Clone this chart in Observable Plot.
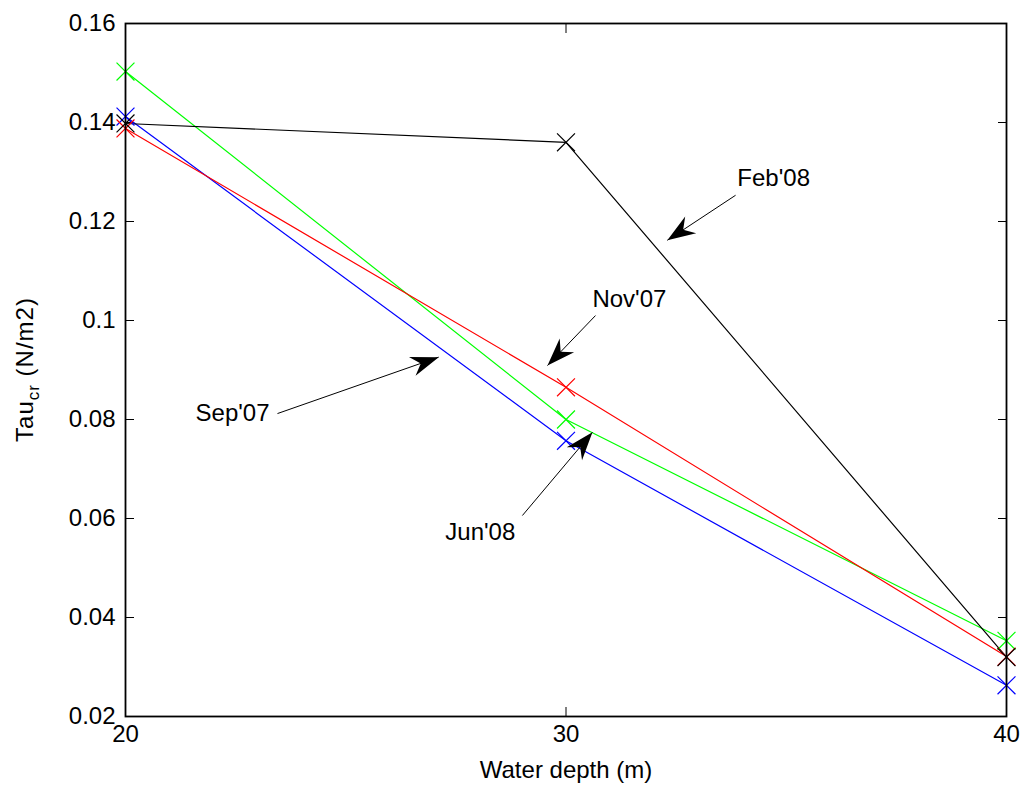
<!DOCTYPE html>
<html>
<head>
<meta charset="utf-8">
<script src="https://cdn.jsdelivr.net/npm/d3@7"></script>
<script src="https://cdn.jsdelivr.net/npm/@observablehq/plot@0.6"></script>
<style>
  body { margin: 0; background: #fff; }
  #chart svg { display: block; }
</style>
</head>
<body>
<div id="chart"></div>
<script>
// Critical shear stress against water depth, one series per survey
const depths = [20, 30, 40];
const seriesNames = ["Jun'08", "Sep'07", "Nov'07", "Feb'08"];
const seriesColors = ["#00ff00", "#0000ff", "#ff0000", "#000000"];
const jun08 = [0.1503, 0.0800, 0.0353];
const sep07 = [0.1412, 0.0757, 0.0263];
const nov07 = [0.1388, 0.0865, 0.0321];
const feb08 = [0.1398, 0.1360, 0.0320];

// Axis ticks
const xTicks = [20, 30, 40];
const yTicks = [0.02, 0.04, 0.06, 0.08, 0.10, 0.12, 0.14, 0.16];
const yTickLabels = ["0.02", "0.04", "0.06", "0.08", "0.1", "0.12", "0.14", "0.16"];

// Callout labels and their arrows (data units)
const calloutText = ["Feb'08", "Nov'07", "Sep'07", "Jun'08"];
const calloutTextX = [33.89, 30.60, 21.59, 27.26];
const calloutTextY = [0.1287, 0.1043, 0.0812, 0.0572];
const arrowFromX = [33.85, 30.67, 23.45, 29.01];
const arrowFromY = [0.1253, 0.1010, 0.0812, 0.0606];
const arrowToX = [32.30, 29.58, 27.11, 30.60];
const arrowToY = [0.1162, 0.0909, 0.0926, 0.0774];

// Layout
const W = 1020, H = 787;
const M = {top: 23, right: 14, bottom: 71, left: 125};
const FONT = "'Liberation Sans', Arial, Helvetica, sans-serif";

const seriesValues = [jun08, sep07, nov07, feb08];
const rows = seriesNames.flatMap((name, i) =>
  depths.map((d, j) => ({series: name, depth: d, tau: seriesValues[i][j]}))
);

// Stand-alone scales matching the plot's, used to orient the arrowheads
const xs = Plot.scale({x: {domain: [20, 40], range: [M.left, W - M.right]}});
const ys = Plot.scale({y: {domain: [0.02, 0.16], range: [H - M.bottom, M.top]}});

const arrows = calloutText.map((t, i) => {
  const dx = xs.apply(arrowToX[i]) - xs.apply(arrowFromX[i]);
  const dy = ys.apply(arrowToY[i]) - ys.apply(arrowFromY[i]);
  return {
    x1: arrowFromX[i], y1: arrowFromY[i],
    x2: arrowToX[i], y2: arrowToY[i],
    angle: Math.atan2(dy, dx) * 180 / Math.PI
  };
});
const callouts = calloutText.map((t, i) => ({text: t, x: calloutTextX[i], y: calloutTextY[i]}));

// Filled, swept-back arrowhead with its tip at the origin, pointing along +x
const arrowhead = {
  draw(context, size) {
    const s = Math.sqrt(size / Math.PI) / 10;
    context.moveTo(0, 0);
    context.lineTo(-28 * s, -10 * s);
    context.lineTo(-19 * s, 0);
    context.lineTo(-28 * s, 10 * s);
    context.closePath();
  }
};

const yFmt = v => yTickLabels[yTicks.findIndex(t => Math.abs(t - v) < 1e-9)] ?? "";

const chart = Plot.plot({
  width: W,
  height: H,
  marginTop: M.top,
  marginRight: M.right,
  marginBottom: M.bottom,
  marginLeft: M.left,
  style: {fontFamily: FONT, fontSize: "24px", color: "black", background: "white", overflow: "visible"},
  x: {domain: [20, 40]},
  y: {domain: [0.02, 0.16]},
  color: {domain: seriesNames, range: seriesColors},
  marks: [
    Plot.axisY({anchor: "left", ticks: yTicks, tickFormat: yFmt, tickSize: -9, tickPadding: 19, label: null, letterSpacing: 1}),
    Plot.axisY({anchor: "right", ticks: yTicks, tickFormat: () => "", tickSize: -9, label: null}),
    Plot.axisX({anchor: "bottom", ticks: xTicks, tickFormat: d => String(d), tickSize: -9, tickPadding: 17,
      label: "Water depth (m)", labelAnchor: "center", labelArrow: "none", labelOffset: 61, letterSpacing: 1}),
    Plot.axisX({anchor: "top", ticks: xTicks, tickFormat: () => "", tickSize: -9, label: null}),
    Plot.line(rows, {x: "depth", y: "tau", z: "series", stroke: "series", strokeWidth: 1.2}),
    Plot.dot(rows, {x: "depth", y: "tau", stroke: "series", symbol: "times", r: 8.2, strokeWidth: 1.2}),
    Plot.link(arrows, {x1: "x1", y1: "y1", x2: "x2", y2: "y2", stroke: "black", strokeWidth: 1}),
    Plot.dot(arrows, {x: "x2", y: "y2", symbol: arrowhead, r: 10, rotate: "angle", fill: "black", stroke: "none"}),
    Plot.text(callouts, {x: "x", y: "y", text: "text", textAnchor: "start", fontSize: 24, fill: "black"}),
    Plot.frame({stroke: "black", strokeWidth: 1.8})
  ]
});

// Y-axis title with the subscripted "cr"
const svg = d3.select(chart);
const yLabel = svg.append("text")
  .attr("transform", `translate(33,${(M.top + H - M.bottom) / 2}) rotate(-90)`)
  .attr("text-anchor", "middle")
  .attr("fill", "black")
  .style("font-family", FONT)
  .style("font-size", "24px")
  .style("letter-spacing", "1px");
yLabel.append("tspan").text("Tau");
yLabel.append("tspan").attr("dy", 6).style("font-size", "17px").text("cr");
yLabel.append("tspan").attr("dy", -6).text(" (N/m2)");

document.getElementById("chart").appendChild(chart);
</script>
</body>
</html>
